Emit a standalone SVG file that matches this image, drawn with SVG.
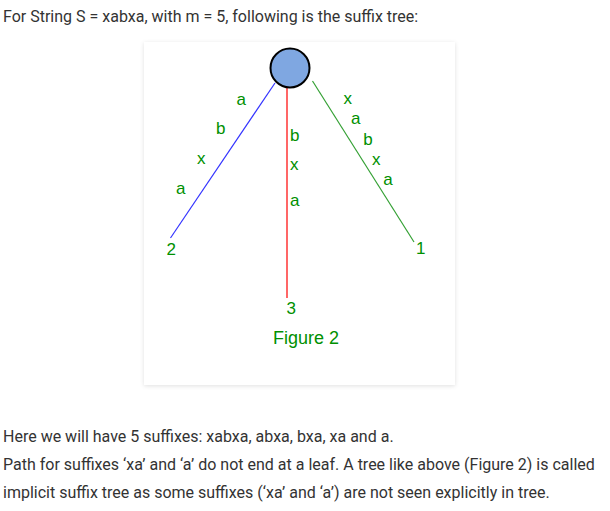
<svg xmlns="http://www.w3.org/2000/svg" width="610" height="511" viewBox="0 0 610 511">
<style>
.body{font-family:Roboto,"Liberation Sans",sans-serif;font-size:16px;fill:#333333}
.lbl{font-family:"Liberation Sans",Arial,sans-serif;font-size:17px;fill:#009000}
.cap{font-family:"Liberation Sans",Arial,sans-serif;font-size:18px;fill:#009000}
.edge{fill:none;stroke-width:1.2}
</style>
<defs>
<filter id="sh" x="-10%" y="-10%" width="120%" height="120%">
<feDropShadow dx="0" dy="1" stdDeviation="2" flood-color="#000" flood-opacity="0.12"/>
</filter>
</defs>
<rect width="610" height="511" fill="#ffffff"/>
<text class="body" x="3" y="22">For String S = xabxa, with m = 5, following is the suffix tree:</text>
<rect id="panel" x="144" y="42" width="311" height="343" fill="#ffffff" filter="url(#sh)"/>
<g id="connectors">
<line class="edge" x1="275" y1="83" x2="170.5" y2="238" stroke="#3333ff"/>
<line class="edge" x1="287" y1="88" x2="287" y2="298" stroke="#ff0000"/>
<line class="edge" x1="312.5" y1="81" x2="414" y2="242" stroke="#33a033"/>
</g>
<g id="root">
<circle cx="290" cy="68" r="19.5" fill="#7fa7e1" stroke="#000" stroke-width="2"/>
</g>
<g id="edge-labels">
<text class="lbl" x="236.5" y="105">a</text>
<text class="lbl" x="216" y="134.3">b</text>
<text class="lbl" x="197" y="164">x</text>
<text class="lbl" x="176" y="194.3">a</text>
<text class="lbl" x="290" y="140.7">b</text>
<text class="lbl" x="290" y="170">x</text>
<text class="lbl" x="290" y="206">a</text>
<text class="lbl" x="343.5" y="104.3">x</text>
<text class="lbl" x="351" y="124.3">a</text>
<text class="lbl" x="363.3" y="145">b</text>
<text class="lbl" x="372" y="165">x</text>
<text class="lbl" x="383.3" y="185">a</text>
</g>
<g id="leaf2"><text class="lbl" x="166.5" y="255">2</text></g>
<g id="leaf3"><text class="lbl" x="286.5" y="314.3">3</text></g>
<g id="leaf1"><text class="lbl" x="416" y="254.3">1</text></g>
<text class="cap" x="306" y="344" text-anchor="middle">Figure 2</text>
<text class="body" x="3" y="442.3">Here we will have 5 suffixes: xabxa, abxa, bxa, xa and a.</text>
<text class="body" x="3" y="470">Path for suffixes ‘xa’ and ‘a’ do not end at a leaf. A tree like above (Figure 2) is called</text>
<text class="body" x="3" y="497.7">implicit suffix tree as some suffixes (‘xa’ and ‘a’) are not seen explicitly in tree.</text>
</svg>
